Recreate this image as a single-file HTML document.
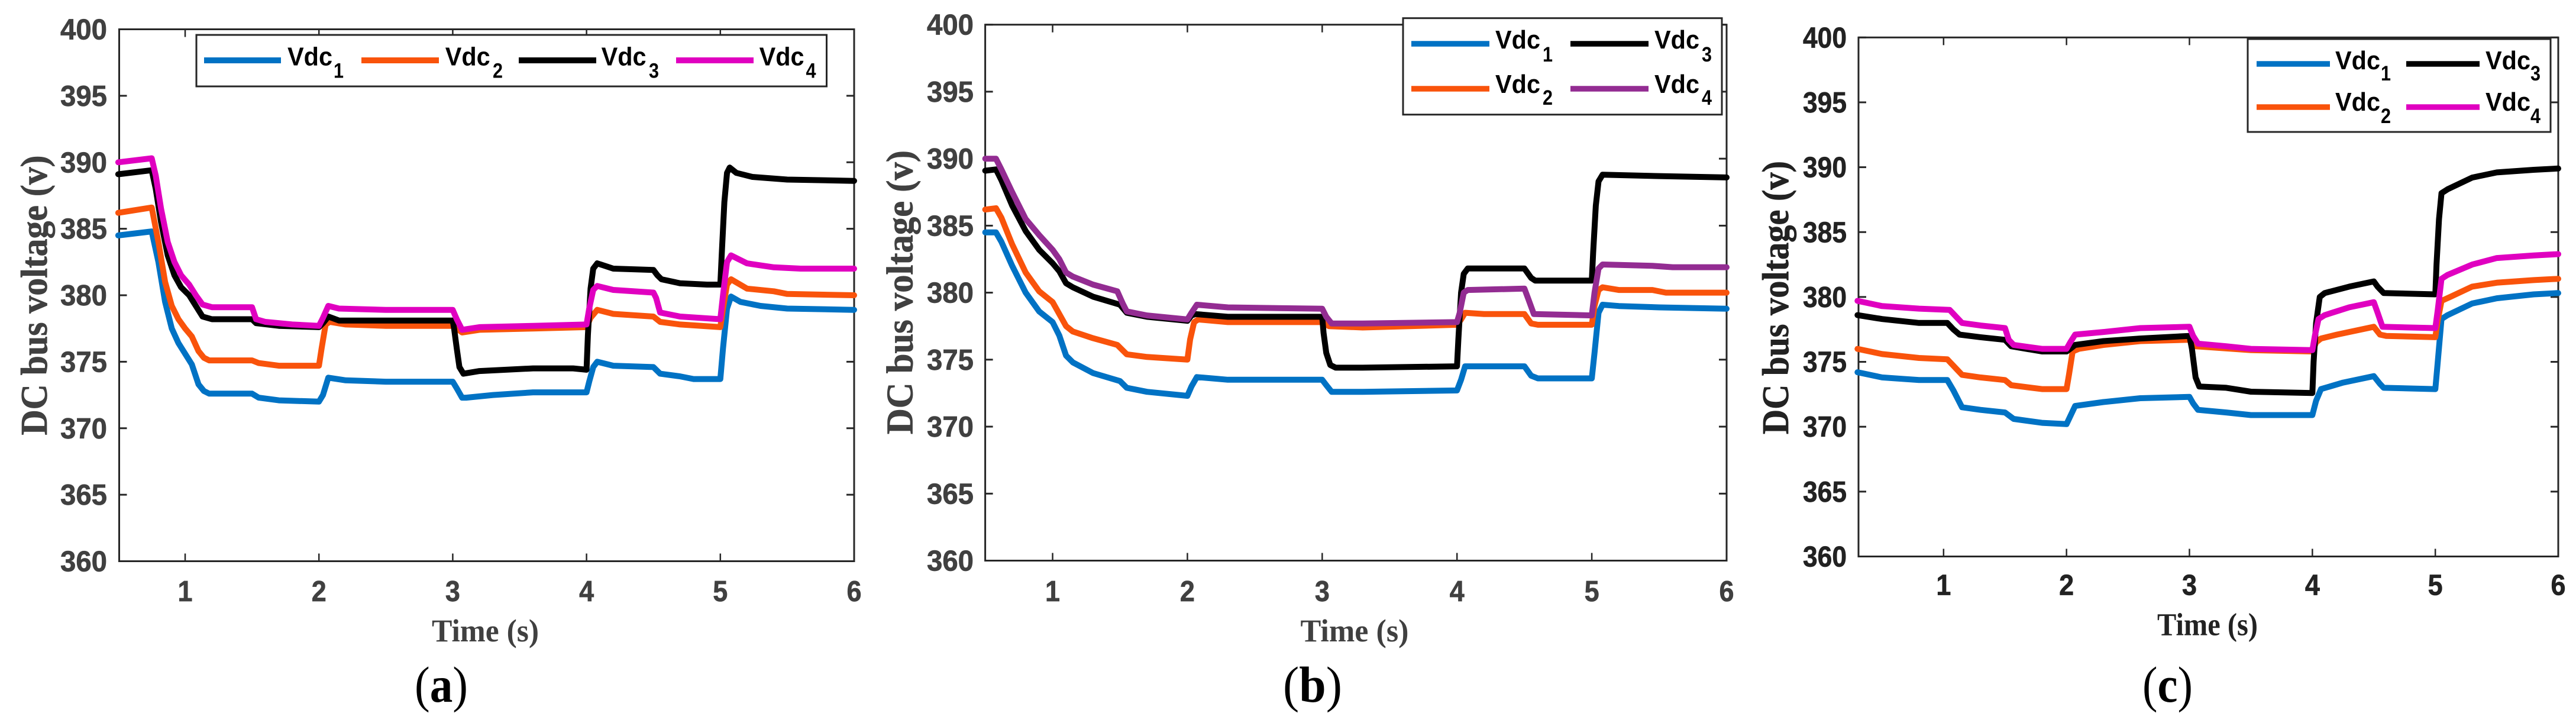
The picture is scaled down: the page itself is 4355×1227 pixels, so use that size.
<!DOCTYPE html>
<html lang="en">
<head>
<meta charset="utf-8">
<title>DC bus voltage panels</title>
<style>
html,body{margin:0;padding:0;background:#fff;width:4355px;height:1227px;overflow:hidden}
svg{display:block}
</style>
</head>
<body>
<svg id="figure" xmlns="http://www.w3.org/2000/svg" width="4355" height="1227" viewBox="0 0 4355 1227"></svg>
<script>
const xTickValues=[1,2,3,4,5,6];
const yTickValues=[360,365,370,375,380,385,390,395,400];
const seriesNames=['Vdc1','Vdc2','Vdc3','Vdc4'];

const panelAVdc1Time=[.5,.75,.8,.85,.9,.95,1,1.05,1.1,1.14,1.18,1.3,1.5,1.55,1.7,2,2.03,2.07,2.2,2.5,3,3.03,3.07,3.1,3.3,3.6,4,4.02,4.05,4.08,4.2,4.5,4.55,4.7,4.8,5,5.02,5.05,5.08,5.15,5.3,5.5,6];
const panelAVdc1Volts=[384.5,384.8,382.5,379.5,377.5,376.4,375.6,374.8,373.3,372.8,372.6,372.6,372.6,372.3,372.1,372,372.5,373.8,373.6,373.5,373.5,373,372.3,372.3,372.5,372.7,372.7,373.5,374.6,375,374.7,374.6,374.1,373.9,373.7,373.7,376,379,379.9,379.5,379.2,379,378.9];
const panelAVdc2Time=[.5,.75,.8,.85,.9,.95,1,1.05,1.1,1.14,1.18,1.3,1.5,1.55,1.7,2,2.02,2.05,2.08,2.2,2.5,3,3.03,3.07,3.2,3.6,4,4.03,4.08,4.2,4.5,4.55,4.7,5,5.02,5.05,5.08,5.2,5.4,5.5,6];
const panelAVdc2Volts=[386.2,386.6,384,381,379.2,378.2,377.5,376.9,375.8,375.3,375.1,375.1,375.1,374.9,374.7,374.7,376,377.8,378,377.8,377.7,377.7,377.5,377.2,377.4,377.5,377.6,378.3,378.9,378.6,378.4,378,377.8,377.6,379,380.8,381.2,380.5,380.3,380.1,380];
const panelAVdc3Time=[.5,.75,.78,.82,.87,.92,.97,1.03,1.08,1.13,1.2,1.5,1.53,1.7,2,2.03,2.07,2.15,3,3.01,3.03,3.05,3.08,3.2,3.6,3.9,4,4.01,4.03,4.05,4.08,4.2,4.5,4.53,4.56,4.7,4.9,5,5.01,5.03,5.05,5.07,5.12,5.24,5.5,6];
const panelAVdc3Volts=[389.1,389.4,388,385.5,383,381.5,380.6,380,379.2,378.4,378.2,378.2,377.9,377.7,377.6,377.9,378.4,378.1,378.1,377.5,376,374.6,374.1,374.3,374.5,374.5,374.4,377,380.5,382,382.4,382,381.9,381.5,381.2,380.9,380.8,380.8,383,387,389.2,389.6,389.2,388.9,388.7,388.6];
const panelAVdc4Time=[.5,.75,.78,.82,.87,.92,.97,1.03,1.08,1.13,1.2,1.5,1.53,1.6,1.8,2,2.03,2.07,2.15,2.5,3,3.03,3.07,3.2,3.6,4,4.02,4.05,4.08,4.2,4.5,4.52,4.55,4.7,5,5.02,5.05,5.08,5.2,5.4,5.6,6];
const panelAVdc4Volts=[390,390.3,389,386.5,384,382.5,381.5,380.8,380,379.3,379.1,379.1,378.2,378,377.8,377.7,378.3,379.2,379,378.9,378.9,378.2,377.4,377.6,377.7,377.8,379,380.4,380.7,380.4,380.2,379.8,378.7,378.4,378.2,380,382.5,383,382.4,382.1,382,382];

const panelBVdc1Time=[.5,.58,.62,.7,.8,.9,1,1.05,1.1,1.15,1.3,1.5,1.55,1.7,2,2.03,2.07,2.3,3,3.03,3.07,3.3,4,4.03,4.06,4.2,4.5,4.55,4.6,5,5.02,5.05,5.08,5.2,5.5,6];
const panelBVdc1Volts=[384.5,384.5,383.8,382,380,378.6,377.8,376.8,375.3,374.8,374,373.4,372.9,372.6,372.3,373,373.7,373.5,373.5,373.1,372.6,372.6,372.7,373.5,374.5,374.5,374.5,373.8,373.6,373.6,375.5,378.5,379.1,379,378.9,378.8];
const panelBVdc2Time=[.5,.58,.62,.7,.8,.9,1,1.05,1.1,1.15,1.3,1.48,1.55,1.7,2,2.02,2.05,2.08,2.3,3,3.05,3.3,4,4.03,4.06,4.2,4.5,4.55,4.6,5,5.02,5.05,5.08,5.2,5.45,5.55,6];
const panelBVdc2Volts=[386.2,386.3,385.6,383.6,381.5,380.1,379.3,378.4,377.5,377.1,376.6,376.1,375.4,375.2,375,376.5,377.8,378,377.8,377.8,377.5,377.4,377.6,378,378.5,378.4,378.4,377.7,377.6,377.6,379,380.2,380.4,380.2,380.2,380,380];
const panelBVdc3Time=[.5,.58,.62,.7,.8,.9,1,1.05,1.1,1.15,1.3,1.5,1.55,1.7,2,2.03,2.06,2.3,3,3.01,3.03,3.06,3.1,3.3,4,4.01,4.03,4.05,4.08,4.5,4.55,4.58,5,5.01,5.03,5.05,5.08,5.5,6];
const panelBVdc3Volts=[389.1,389.2,388.4,386.5,384.6,383.2,382.2,381.6,380.7,380.4,379.7,379.1,378.5,378.2,377.9,378.3,378.4,378.2,378.2,377,375.5,374.6,374.4,374.4,374.5,376.5,380,381.4,381.8,381.8,381.1,380.9,380.9,383,386.5,388.3,388.8,388.7,388.6];
const panelBVdc4Time=[.5,.58,.62,.7,.8,.9,1,1.05,1.1,1.15,1.3,1.48,1.52,1.55,1.7,2,2.03,2.07,2.3,3,3.03,3.07,3.3,4,4.02,4.05,4.08,4.5,4.53,4.57,5,5.02,5.05,5.08,5.45,5.6,6];
const panelBVdc4Volts=[390,390,389.2,387.5,385.5,384.3,383.2,382.5,381.5,381.2,380.6,380.1,379.2,378.6,378.3,378,378.5,379.1,378.9,378.8,378.2,377.7,377.7,377.8,378.5,380,380.2,380.3,379.5,378.4,378.3,380,381.8,382.1,382,381.9,381.9];

const panelCVdc1Time=[.3,.5,.8,1.03,1.08,1.15,1.3,1.5,1.57,1.8,2,2.03,2.07,2.3,2.6,3,3.03,3.07,3.3,3.5,4,4.03,4.07,4.25,4.5,4.55,4.58,5,5.02,5.05,5.1,5.3,5.5,5.8,6];
const panelCVdc1Volts=[374.2,373.8,373.6,373.6,372.8,371.5,371.3,371.1,370.6,370.3,370.2,370.8,371.6,371.9,372.2,372.3,371.8,371.3,371.1,370.9,370.9,372,372.9,373.4,373.9,373.3,373,372.9,375,378.3,378.6,379.5,379.9,380.2,380.3];
const panelCVdc2Time=[.3,.5,.8,1.03,1.08,1.15,1.3,1.5,1.55,1.8,2,2.02,2.05,2.1,2.3,2.6,3,3.05,3.2,3.5,4,4.03,4.07,4.2,4.5,4.55,4.6,5,5.02,5.05,5.12,5.3,5.5,5.8,6];
const panelCVdc2Volts=[376,375.6,375.3,375.2,374.7,374,373.8,373.6,373.2,372.9,372.9,374,375.8,376,376.3,376.6,376.7,376.2,376.1,375.9,375.8,376.5,376.8,377.1,377.7,377.1,377,376.9,378.2,379.7,380,380.8,381.1,381.3,381.4];
const panelCVdc3Time=[.3,.5,.8,1.03,1.08,1.13,1.3,1.5,1.55,1.8,2,2.03,2.07,2.3,2.6,3,3.02,3.05,3.08,3.3,3.5,4,4.01,4.03,4.06,4.1,4.3,4.5,4.53,4.58,5,5.01,5.03,5.05,5.1,5.3,5.5,5.8,6];
const panelCVdc3Volts=[378.6,378.3,378,378,377.5,377.1,376.9,376.7,376.2,375.8,375.8,376,376.3,376.6,376.8,377,376,373.8,373.1,373,372.7,372.6,375,378,380,380.3,380.8,381.2,380.8,380.3,380.2,382.5,386,388,388.3,389.2,389.6,389.8,389.9];
const panelCVdc4Time=[.3,.5,.8,1.05,1.1,1.15,1.3,1.5,1.53,1.57,1.8,2,2.03,2.07,2.3,2.6,3,3.03,3.07,3.3,3.5,4,4.02,4.05,4.1,4.3,4.5,4.53,4.57,5,5.02,5.05,5.1,5.3,5.5,5.8,6];
const panelCVdc4Volts=[379.7,379.3,379.1,379,378.5,378,377.8,377.6,376.7,376.3,376,376,376.5,377.1,377.3,377.6,377.7,377,376.4,376.2,376,375.9,377,378.3,378.6,379.2,379.6,378.8,377.7,377.6,379,381.4,381.7,382.5,383,383.2,383.3];

const BLUE='#0072c4',ORANGE='#f9530b',BLACK='#000000',MAGENTA='#e000c0',PURPLE='#932c92';
const NS='http://www.w3.org/2000/svg';
const SANS='"Liberation Sans", sans-serif';
const SERIF='"Liberation Serif", serif';
const fig=document.getElementById('figure');

const panels=[
 {id:'a',left:201.5,right:1444,top:49.5,bottom:948.5,xMin:.507,xMax:6,labelColor:'#404040',tickW:79,tickRight:181,xBase:1016,
  time:{x:730,w:181,y:1084},ylabel:{x:79,y:735.5,len:473},caption:{x:701,w:90,y:1186,letter:'a'},
  colors:[BLUE,ORANGE,BLACK,MAGENTA],
  series:[[panelAVdc1Time,panelAVdc1Volts],[panelAVdc2Time,panelAVdc2Volts],[panelAVdc3Time,panelAVdc3Volts],[panelAVdc4Time,panelAVdc4Volts]],
  legend:{x:332,y:59,w:1065.5,h:87,th:10,items:[
   {x0:345,x1:475,y:102,tx:486,ty:110.7,sx:564,sy:131.7},
   {x0:611,x1:742,y:102,tx:752.7,ty:110.7,sx:833,sy:131.7},
   {x0:877,x1:1008,y:102,tx:1016.6,ty:110.7,sx:1097,sy:131.7},
   {x0:1143,x1:1274,y:102,tx:1283.6,ty:110.7,sx:1362.5,sy:131.7}]}},
 {id:'b',left:1665.6,right:2919,top:41.7,bottom:947.5,xMin:.5,xMax:6,labelColor:'#404040',tickW:79,tickRight:1646,xBase:1016,
  time:{x:2198.5,w:183,y:1084},ylabel:{x:1542.5,y:734,len:480},caption:{x:2169,w:100,y:1186,letter:'b'},
  colors:[BLUE,ORANGE,BLACK,PURPLE],
  series:[[panelBVdc1Time,panelBVdc1Volts],[panelBVdc2Time,panelBVdc2Volts],[panelBVdc3Time,panelBVdc3Volts],[panelBVdc4Time,panelBVdc4Volts]],
  legend:{x:2372,y:30.7,w:539,h:163,th:9.5,items:[
   {x0:2386,x1:2518,y:74,tx:2528,ty:82,sx:2608,sy:104},
   {x0:2386,x1:2518,y:150,tx:2528,ty:157,sx:2608,sy:177},
   {x0:2655,x1:2787,y:74,tx:2797,ty:82,sx:2877,sy:104},
   {x0:2655,x1:2787,y:150,tx:2797,ty:157,sx:2877,sy:177}]}},
 {id:'c',left:3142,right:4325,top:63.3,bottom:940.5,xMin:.308,xMax:6,labelColor:'#222222',tickW:74,tickRight:3122,xBase:1005.5,
  time:{x:3647,w:170,y:1073.5},ylabel:{x:3023,y:734,len:462},caption:{x:3622,w:85,y:1186,letter:'c'},
  colors:[BLUE,ORANGE,BLACK,MAGENTA],
  series:[[panelCVdc1Time,panelCVdc1Volts],[panelCVdc2Time,panelCVdc2Volts],[panelCVdc3Time,panelCVdc3Volts],[panelCVdc4Time,panelCVdc4Volts]],
  legend:{x:3800,y:66,w:512,h:157,th:9.5,items:[
   {x0:3815,x1:3939,y:108,tx:3948,ty:117,sx:4025,sy:136},
   {x0:3815,x1:3939,y:181,tx:3948,ty:187,sx:4025,sy:208},
   {x0:4068,x1:4192,y:108,tx:4202,ty:117,sx:4278,sy:136},
   {x0:4068,x1:4192,y:181,tx:4202,ty:187,sx:4278,sy:208}]}}
];

function svgEl(tag,attrs,parent){
  const el=document.createElementNS(NS,tag);
  for(const k in attrs){el.setAttribute(k,attrs[k]);}
  parent.appendChild(el);
  return el;
}

function drawPanel(p){
  const xScale=t=>p.left+(t-p.xMin)/(p.xMax-p.xMin)*(p.right-p.left);
  const yScale=v=>p.bottom-(v-360)/40*(p.bottom-p.top);
  const g=svgEl('g',{},fig);
  
  

  const frame=svgEl('rect',{x:p.left,y:p.top,width:p.right-p.left,height:p.bottom-p.top,fill:'none',stroke:'#262626','stroke-width':3},g);
  
  

  xTickValues.forEach(t=>{
    const x=xScale(t);
    const tickBottom=svgEl('line',{x1:x,x2:x,y1:p.bottom,y2:p.bottom-13,stroke:'#262626','stroke-width':2.5},g);
    
    
    const tickTop=svgEl('line',{x1:x,x2:x,y1:p.top,y2:p.top+13,stroke:'#262626','stroke-width':2.5},g);
    
    
    const label=svgEl('text',{x:x,y:p.xBase,'text-anchor':'middle','font-family':SANS,'font-weight':'bold','font-size':49,fill:p.labelColor,stroke:p.labelColor,'stroke-width':0.7,textLength:25,lengthAdjust:'spacingAndGlyphs'},g);
    label.textContent=String(t);
    
    
  });

  yTickValues.forEach(v=>{
    const y=yScale(v);
    const tickLeft=svgEl('line',{x1:p.left,x2:p.left+13,y1:y,y2:y,stroke:'#262626','stroke-width':3},g);
    
    
    const tickRight=svgEl('line',{x1:p.right,x2:p.right-13,y1:y,y2:y,stroke:'#262626','stroke-width':3},g);
    
    
    const label=svgEl('text',{x:p.tickRight-p.tickW,y:y+17,'font-family':SANS,'font-weight':'bold','font-size':49,fill:p.labelColor,stroke:p.labelColor,'stroke-width':0.7,textLength:p.tickW,lengthAdjust:'spacingAndGlyphs'},g);
    label.textContent=String(v);
    
    
  });

  p.series.forEach((s,i)=>{
    const pts=s[0].map((t,j)=>xScale(t).toFixed(1)+','+yScale(s[1][j]).toFixed(1)).join(' ');
    const line=svgEl('polyline',{points:pts,fill:'none',stroke:p.colors[i],'stroke-width':10,'stroke-linejoin':'round','stroke-linecap':'round'},g);
    
    
  });

  const legend=svgEl('g',{},g);
  
  
  const box=svgEl('rect',{x:p.legend.x,y:p.legend.y,width:p.legend.w,height:p.legend.h,fill:'#fff',stroke:'#262626','stroke-width':3},legend);
  
  
  p.legend.items.forEach((it,i)=>{
    const swatch=svgEl('rect',{x:it.x0,y:it.y-p.legend.th/2,width:it.x1-it.x0,height:p.legend.th,fill:p.colors[i]},legend);
    
    
    const txt=svgEl('text',{x:it.tx,y:it.ty,'font-family':SANS,'font-weight':'bold','font-size':44,fill:'#000',textLength:76,lengthAdjust:'spacingAndGlyphs'},legend);
    txt.textContent='Vdc';
    
    
    const sub=svgEl('text',{x:it.sx,y:it.sy,'font-family':SANS,'font-weight':'bold','font-size':35,fill:'#000',textLength:17,lengthAdjust:'spacingAndGlyphs'},legend);
    sub.textContent=String(i+1);
    
    
  });

  const timeTitle=svgEl('text',{x:p.time.x,y:p.time.y,'font-family':SERIF,'font-weight':'bold','font-size':54,fill:p.labelColor,textLength:p.time.w,lengthAdjust:'spacingAndGlyphs'},g);
  timeTitle.textContent='Time (s)';
  
  

  const yTitle=svgEl('text',{transform:'translate('+p.ylabel.x+','+p.ylabel.y+') rotate(-90)','font-family':SERIF,'font-weight':'bold','font-size':63,fill:p.labelColor,stroke:p.labelColor,'stroke-width':0.8,textLength:p.ylabel.len,lengthAdjust:'spacingAndGlyphs'},g);
  yTitle.textContent='DC bus voltage (v)';
  
  

  const caption=svgEl('text',{x:p.caption.x,y:p.caption.y,'font-family':SERIF,'font-size':86,fill:'#000',textLength:p.caption.w,lengthAdjust:'spacingAndGlyphs'},g);
  
  
  const open=svgEl('tspan',{},caption);
  open.textContent='(';
  const letter=svgEl('tspan',{'font-weight':'bold'},caption);
  letter.textContent=p.caption.letter;
  const close=svgEl('tspan',{},caption);
  close.textContent=')';
}

panels.forEach(drawPanel);
</script>
</body>
</html>
